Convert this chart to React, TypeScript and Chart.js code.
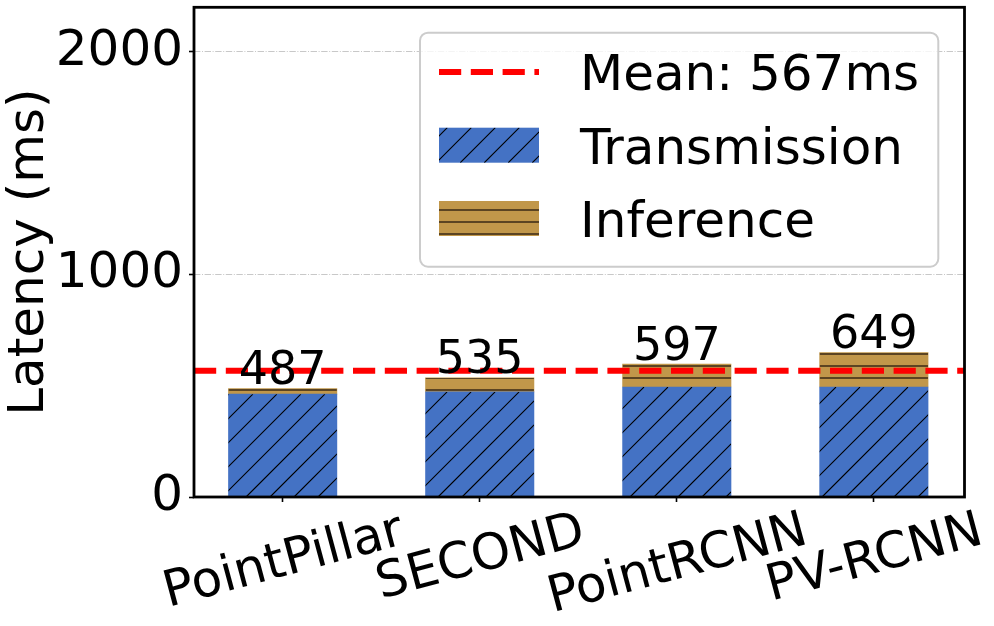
import React, { useEffect, useRef } from 'react';
import { Chart, registerables } from 'chart.js';

Chart.register(...registerables);

// ---- data ----
const categories = ['PointPillar', 'SECOND', 'PointRCNN', 'PV-RCNN'];
const transmission = [462, 472, 494, 494];
const inference = [25, 63, 103, 155];
const yTickValues = [0, 1000, 2000];
const yMax = 2200;
const xMin = -0.45;
const xMax = 3.46;

const totals = transmission.map((t, i) => t + inference[i]);
const meanValue = Math.round(totals.reduce((a, b) => a + b, 0) / totals.length);

// ---- styles ----
const FONT = "'DejaVu Sans', sans-serif";
const BLUE = '#4472C4';
const TAN = '#C1974A';
const BROWN = '#5B4422';
const RED = '#FF0000';

function hatchDiag(ctx: CanvasRenderingContext2D, x0: number, y0: number, x1: number, y1: number) {
  const d = 24;
  const ph = 23;
  ctx.save();
  ctx.beginPath();
  ctx.rect(x0, y0, x1 - x0, y1 - y0);
  ctx.clip();
  ctx.strokeStyle = '#000';
  ctx.lineWidth = 1.1;
  ctx.beginPath();
  const sMin = x0 + y0;
  const sMax = x1 + y1;
  const k = Math.floor((sMin - ph) / d);
  for (let s = k * d + ph; s <= sMax + d; s += d) {
    ctx.moveTo(s - y1, y1);
    ctx.lineTo(s - y0, y0);
  }
  ctx.stroke();
  ctx.restore();
}

function hatchHoriz(ctx: CanvasRenderingContext2D, x0: number, y0: number, x1: number, y1: number) {
  const d = 12;
  const ph = 6;
  ctx.save();
  ctx.beginPath();
  ctx.rect(x0, y0, x1 - x0, y1 - y0);
  ctx.clip();
  ctx.strokeStyle = BROWN;
  ctx.lineWidth = 2;
  ctx.beginPath();
  const k = Math.floor((y0 - ph) / d);
  for (let y = k * d + ph; y <= y1 + d; y += d) {
    ctx.moveTo(x0, y);
    ctx.lineTo(x1, y);
  }
  ctx.stroke();
  ctx.restore();
}

const decorPlugin = {
  id: 'decor',
  afterDatasetsDraw(chart: any) {
    const ctx: CanvasRenderingContext2D = chart.ctx;
    const area = chart.chartArea;
    const xs = chart.scales.x;
    const ys = chart.scales.y;

    // hatches
    const m0 = chart.getDatasetMeta(0);
    m0.data.forEach((el: any) => {
      const p = el.getProps(['x', 'y', 'base', 'width'], true);
      hatchDiag(ctx, p.x - p.width / 2, Math.min(p.y, p.base), p.x + p.width / 2, Math.max(p.y, p.base));
    });
    const m1 = chart.getDatasetMeta(1);
    m1.data.forEach((el: any) => {
      const p = el.getProps(['x', 'y', 'base', 'width'], true);
      hatchHoriz(ctx, p.x - p.width / 2, Math.min(p.y, p.base), p.x + p.width / 2, Math.max(p.y, p.base));
    });

    // mean line
    const my = ys.getPixelForValue(meanValue);
    ctx.save();
    ctx.strokeStyle = RED;
    ctx.lineWidth = 6;
    ctx.setLineDash([22.2, 9.6]);
    ctx.beginPath();
    ctx.moveTo(area.left, my);
    ctx.lineTo(area.right, my);
    ctx.stroke();
    ctx.restore();

    // bar value labels
    ctx.save();
    ctx.fillStyle = '#000';
    ctx.font = `46px ${FONT}`;
    ctx.textAlign = 'center';
    ctx.textBaseline = 'alphabetic';
    m1.data.forEach((el: any, i: number) => {
      const p = el.getProps(['x', 'y'], true);
      ctx.fillText(String(totals[i]), p.x, p.y - 4.5);
    });
    ctx.restore();

    // x tick labels (rotated 15deg, bbox centred on tick)
    ctx.save();
    ctx.fillStyle = '#000';
    ctx.font = `50px ${FONT}`;
    ctx.textAlign = 'center';
    ctx.textBaseline = 'alphabetic';
    const th = (15 * Math.PI) / 180;
    const H = 58;
    const top = area.bottom + 2;
    categories.forEach((c, i) => {
      const px = xs.getPixelForValue(i);
      const W = ctx.measureText(c).width;
      const cy = top + (W * Math.sin(th) + H * Math.cos(th)) / 2;
      ctx.save();
      ctx.translate(px, cy);
      ctx.rotate(-th);
      ctx.fillText(c, 0, 17);
      ctx.restore();
    });
    ctx.restore();

    // frame
    ctx.save();
    ctx.strokeStyle = '#000';
    ctx.lineWidth = 2.8;
    ctx.strokeRect(area.left, area.top, area.right - area.left, area.bottom - area.top);
    ctx.restore();

    // legend
    ctx.save();
    const bx = 420, by = 32.7, bw = 518.3, bh = 234, r = 8;
    ctx.beginPath();
    ctx.roundRect(bx, by, bw, bh, r);
    ctx.fillStyle = 'rgba(255,255,255,0.8)';
    ctx.fill();
    ctx.strokeStyle = '#cccccc';
    ctx.lineWidth = 2;
    ctx.stroke();

    const hx0 = 439, hx1 = 539;
    // mean handle
    ctx.strokeStyle = RED;
    ctx.lineWidth = 6;
    ctx.setLineDash([22.2, 9.6]);
    ctx.beginPath();
    ctx.moveTo(hx0, 72);
    ctx.lineTo(hx1, 72);
    ctx.stroke();
    ctx.setLineDash([]);
    // transmission patch
    ctx.fillStyle = BLUE;
    ctx.fillRect(hx0, 127.7, hx1 - hx0, 35);
    hatchDiag(ctx, hx0, 127.7, hx1, 162.7);
    // inference patch
    ctx.fillStyle = TAN;
    ctx.fillRect(hx0, 201, hx1 - hx0, 35);
    hatchHoriz(ctx, hx0, 201, hx1, 236);

    ctx.fillStyle = '#000';
    ctx.font = `50px ${FONT}`;
    ctx.textAlign = 'left';
    ctx.textBaseline = 'alphabetic';
    const labels = [`Mean: ${meanValue}ms`, chart.data.datasets[0].label, chart.data.datasets[1].label];
    const baselines = [90, 163.5, 236.5];
    labels.forEach((t, i) => ctx.fillText(t, 580, baselines[i]));
    ctx.restore();
  },
};

export default function App() {
  const ref = useRef<HTMLCanvasElement>(null);
  useEffect(() => {
    document.body.style.margin = '0';
    const canvas = ref.current!;
    const chart = new Chart(canvas, {
      type: 'bar',
      data: {
        datasets: [
          {
            label: 'Transmission',
            data: transmission.map((v, i) => ({ x: i, y: v })),
            backgroundColor: BLUE,
            borderWidth: 0,
            barThickness: 108.4,
          },
          {
            label: 'Inference',
            data: inference.map((v, i) => ({ x: i, y: v })),
            backgroundColor: TAN,
            borderWidth: 0,
            barThickness: 108.4,
          },
        ],
      },
      options: {
        responsive: false,
        animation: false,
        devicePixelRatio: 1,
        layout: { padding: { top: 7.3, right: 29.5, left: 0, bottom: 0 } },
        plugins: {
          legend: { display: false },
          tooltip: { enabled: false },
        },
        scales: {
          x: {
            type: 'linear',
            stacked: true,
            offset: false,
            min: xMin,
            max: xMax,
            afterBuildTicks: (s: any) => {
              s.ticks = categories.map((_, i) => ({ value: i }));
            },
            afterFit: (s: any) => {
              s.height = 129;
              s.paddingLeft = 0;
              s.paddingRight = 0;
            },
            ticks: { display: false },
            grid: {
              drawOnChartArea: false,
              drawTicks: true,
              tickLength: 5,
              tickColor: '#000',
              tickWidth: 1.6,
              offset: false,
            },
            border: { display: false },
          },
          y: {
            type: 'linear',
            stacked: true,
            min: 0,
            max: yMax,
            afterBuildTicks: (s: any) => {
              s.ticks = yTickValues.map((v) => ({ value: v }));
            },
            afterFit: (s: any) => {
              s.width = 194;
              s.paddingTop = 0;
              s.paddingBottom = 0;
            },
            ticks: {
              font: { family: FONT, size: 50 },
              color: '#000',
              padding: 6,
              labelOffset: 0,
              callback: (v: any) => String(v),
            },
            grid: {
              color: '#c8c8c8',
              lineWidth: 1,
              drawTicks: true,
              tickLength: 5,
              tickColor: '#000',
              tickWidth: 1.6,
            },
            border: { display: false, dash: [6.4, 1.6, 1, 1.6] },
            title: {
              display: true,
              text: 'Latency (ms)',
              font: { family: FONT, size: 50 },
              color: '#000',
              padding: 0,
            },
          },
        },
      },
      plugins: [decorPlugin],
    });
    return () => chart.destroy();
  }, []);
  return (
    <div style={{ width: 994, height: 626 }}>
      <canvas ref={ref} width={994} height={626} style={{ display: 'block' }} />
    </div>
  );
}
